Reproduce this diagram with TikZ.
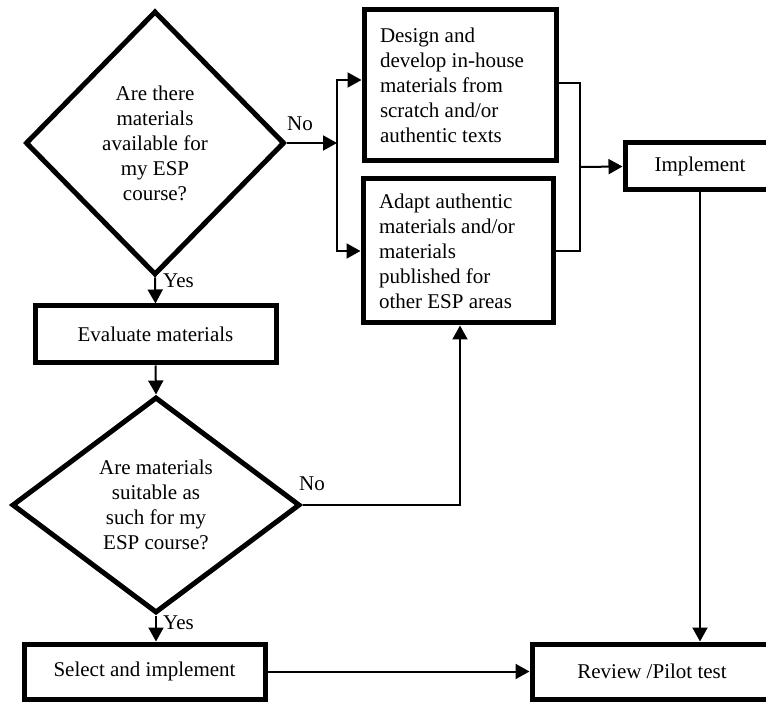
\documentclass[tikz,border=0pt]{standalone}
\usepackage{fontspec}
\setmainfont{Liberation Serif}
\usepackage{tikz}
\usetikzlibrary{arrows.meta,positioning,shapes.geometric,calc}

\begin{document}
\begin{tikzpicture}[x=1pt,y=-1pt,
  box/.style={draw,line width=5pt,rectangle,inner sep=0pt,font=\fontsize{21}{25}\selectfont},
  leftbox/.style={box,align=flush left,text width=160pt,inner xsep=16pt},
  choice/.style={draw,line width=5pt,diamond,inner sep=0pt,align=center,font=\fontsize{21}{25}\selectfont},
  link/.style={line width=2pt,-{Triangle[length=14pt,width=15pt]}},
  wire/.style={line width=2pt},
  lbl/.style={inner sep=0pt,font=\fontsize{21}{25}\selectfont}]
\useasboundingbox (0,0) rectangle (766,703);
% decisions
\node[choice,minimum width=259pt,minimum height=264pt] (avail) at (155,143)
  {Are there\\materials\\available for\\my ESP\\course?};
\node[choice,minimum width=288pt,minimum height=216pt] (suitable) at (156,505)
  {Are materials\\suitable as\\such for my\\ESP course?};
% boxes
\node[leftbox,minimum height=151pt] (design) at (460,85.5)
  {Design and\\develop in-house\\materials from\\scratch and/or\\authentic texts};
\node[leftbox,text width=158pt,minimum height=144pt] (adapt) at (458,251)
  {Adapt authentic\\materials and/or\\materials\\published for\\other ESP areas};
\node[box,minimum width=150pt,minimum height=47pt] (implement) at (700,166.5) {Implement};
\node[box,minimum width=241pt,minimum height=57pt] (evaluate) at (155.5,334.5) {Evaluate materials};
\node[box,minimum width=241pt,minimum height=55pt] (select) at (144.5,671.5) {Select and implement};
\node[box,minimum width=240pt,minimum height=55pt] (review) at (652,671.5) {Review /Pilot test};
% labels
\node[lbl] (no1) at (300,124) {No};
\node[lbl] (no2) at (312,484) {No};
\node[lbl,anchor=west] (yes1) at (163,281) {Yes};
\node[lbl,anchor=west] (yes2) at (163,623) {Yes};
% buses
\coordinate (busL) at (337,143);
\coordinate (busR) at (580,167);
% connectors
\draw[link] (avail.east) -- (busL);
\draw[link] (busL) |- ([yshift=5.5pt]design.west);
\draw[link] (busL) |- (adapt.west);
\draw[wire] ([yshift=2.5pt]design.east) -| (busR);
\draw[wire] (adapt.east) -| (busR);
\draw[link] (busR) -- (implement.west);
\draw[link] (implement.south) -- (implement.south |- review.north);
\draw[link] (avail.south) -- (evaluate.north);
\draw[link] (evaluate.south) -- (suitable.north);
\draw[link] (suitable.east) -| ([xshift=2pt]adapt.south);
\draw[link] (suitable.south) -- (suitable.south |- select.north);
\draw[link] (select.east) -- (review.west);
\end{tikzpicture}
\end{document}
